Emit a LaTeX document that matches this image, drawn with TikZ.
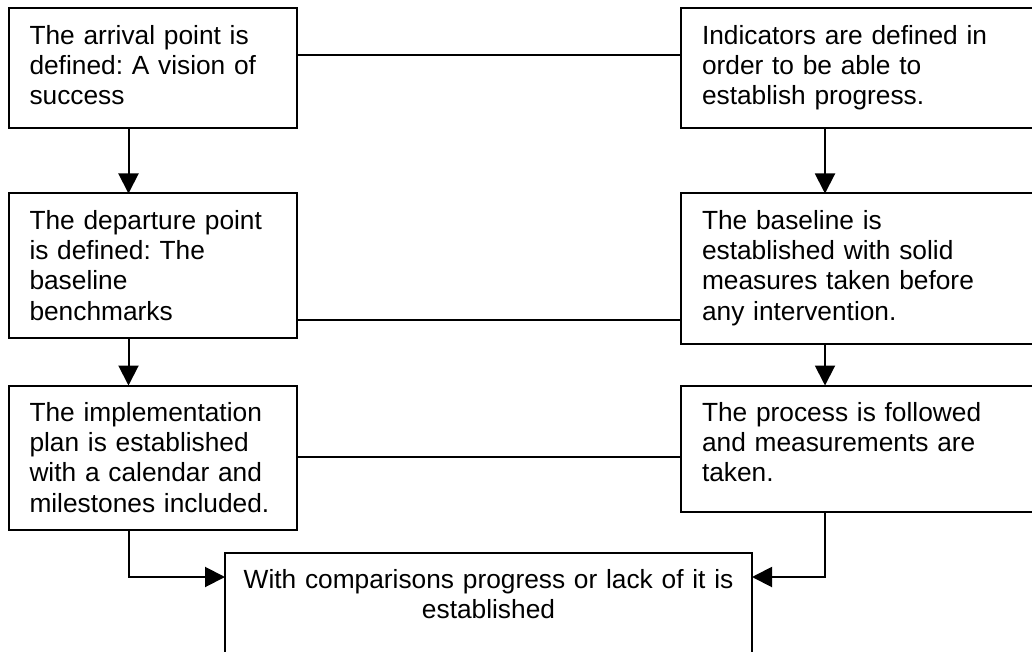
\documentclass[tikz,border=0pt]{standalone}
\usepackage{fontspec}
\setmainfont{Liberation Sans}
\usetikzlibrary{positioning, arrows.meta}
\frenchspacing

\begin{document}
\begin{tikzpicture}[x=1pt, y=-1pt, node distance = 1ex]
 \tikzstyle{box} = [draw, line width=2pt, outer sep=0pt, align=left, inner xsep=21pt, inner ysep=17pt, text height=19pt, font=\fontsize{26.3}{30.2}\selectfont]
 \tikzstyle{lbox} = [box, text width=246.5pt]
 \tikzstyle{rbox} = [box, text width=310.5pt]
 \tikzstyle{wbox} = [box, align=center, text width=500pt, inner xsep=13.5pt, inner ysep=16pt]
 \tikzstyle{conn} = [line width=2pt, -{Triangle[length=20pt, width=20pt]}]
 \tikzstyle{link} = [line width=1.8pt]

 \fill [white] (0,0) rectangle (1032,652);
 \useasboundingbox (0,0) rectangle (1032,652);

 \node [lbox, anchor=north west, text depth=67pt] (A1) at (8.5,8.5) {The arrival point is\\defined: A vision of\\success};
 \node [lbox, text depth=91pt, below = 65pt of A1] (A2) {The departure point\\is defined: The\\baseline\\benchmarks};
 \node [lbox, text depth=91pt, below = 48pt of A2] (A3) {The implementation\\plan is established\\with a calendar and\\milestones included.};
 \node [rbox, text depth=67pt, right = 384pt of A1] (B1) {Indicators are defined in\\order to be able to\\establish progress.};
 \node [rbox, text depth=97pt, below = 65pt of B1] (B2) {The baseline is\\established with solid\\measures taken before\\any intervention.};
 \node [rbox, text depth=73pt, below = 42pt of B2] (B3) {The process is followed\\and measurements are\\taken.};
 \node [wbox, anchor=north west, text depth=69pt] (C) at (225,553) {With comparisons progress or lack of it is\\established};

 % columns of the arrows
 \coordinate (colA) at (128.5,0);
 \coordinate (colB) at (825,0);

 \draw [conn] (A1.south -| colA) -- (A2.north -| colA);
 \draw [conn] (A2.south -| colA) -- (A3.north -| colA);
 \draw [conn] (B1.south -| colB) -- (B2.north -| colB);
 \draw [conn] (B2.south -| colB) -- (B3.north -| colB);
 \draw [conn] (A3.south -| colA) |- ([yshift=-24pt]C.north west);
 \draw [conn] (B3.south -| colB) |- ([yshift=-24pt]C.north east);

 \draw [link] ([yshift=13.5pt]A1.east) -- ([yshift=13.5pt]A1.east -| B1.west);
 \draw [link] ([yshift=-54.5pt]A2.east) -- ([yshift=-54.5pt]A2.east -| B2.west);
 \draw [link] ([yshift=0.5pt]A3.east) -- ([yshift=0.5pt]A3.east -| B3.west);
\end{tikzpicture}
\end{document}
